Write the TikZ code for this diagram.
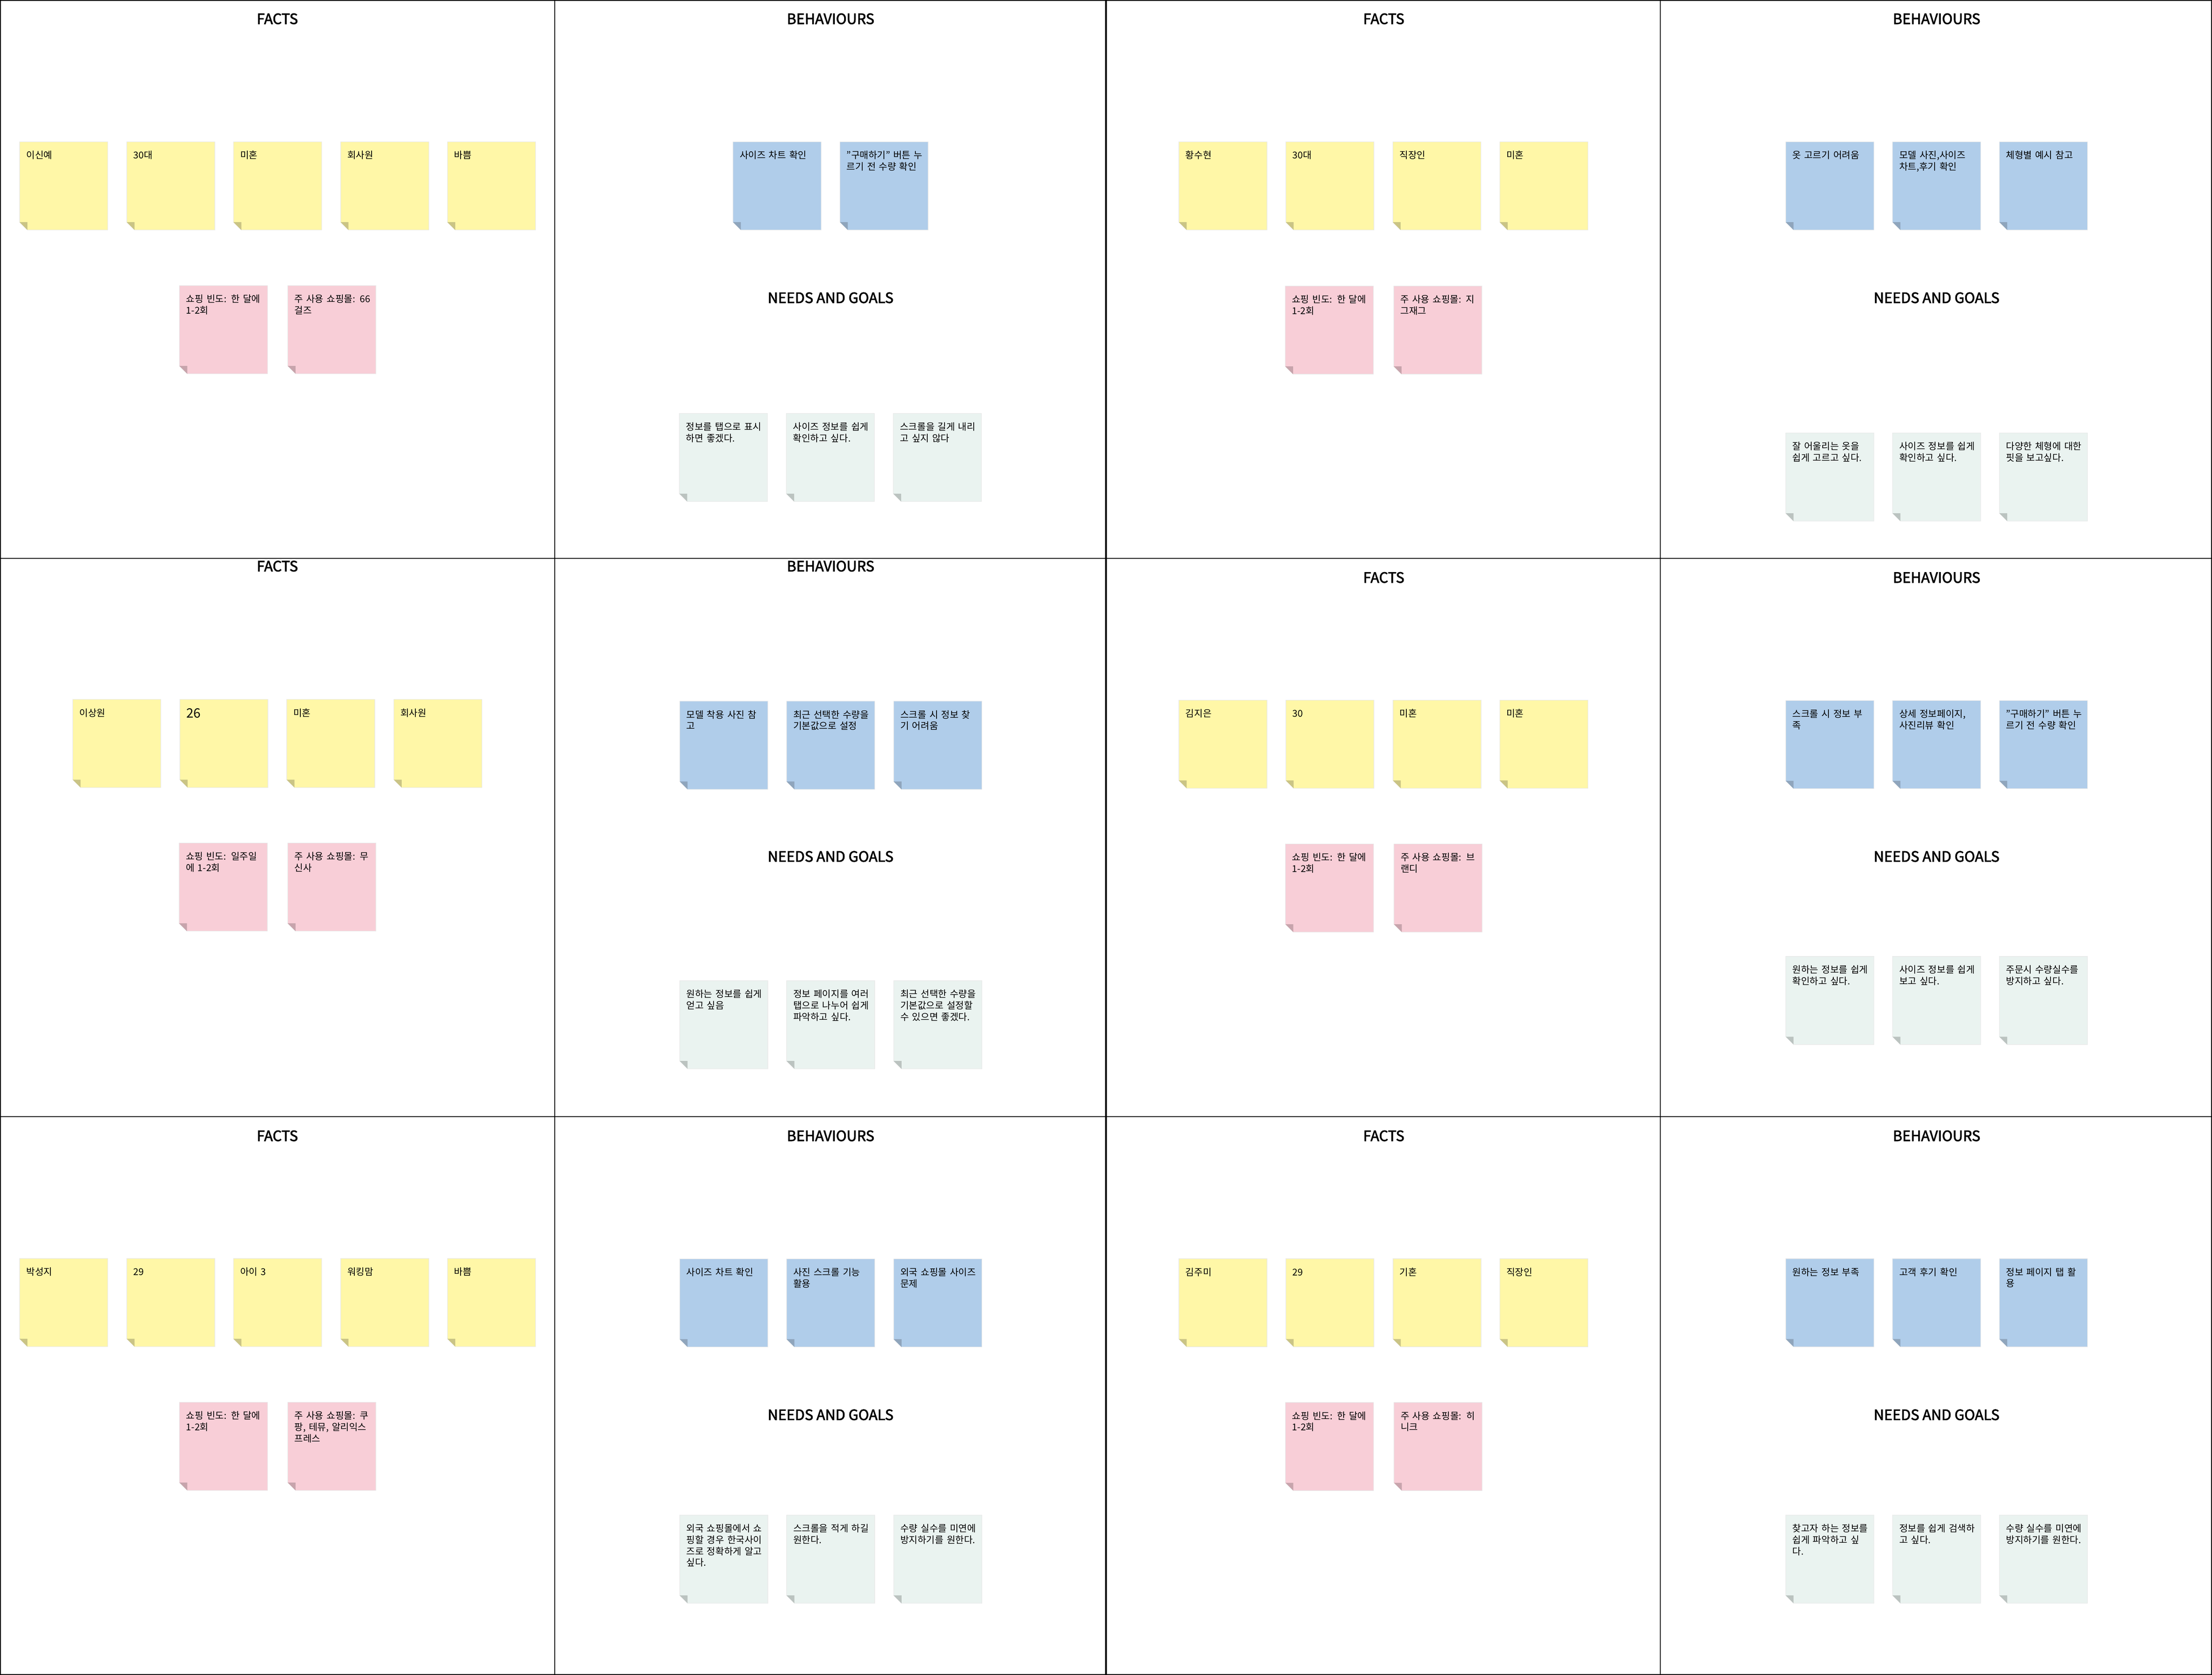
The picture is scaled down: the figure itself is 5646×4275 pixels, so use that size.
\documentclass[tikz,border=0pt]{standalone}
\usepackage{fontspec}
\setmainfont{Noto Sans CJK KR}
\newfontfamily\titlefont[FakeBold=2.5]{Noto Sans CJK KR}
\definecolor{noteYel}{HTML}{FFF7A7}
\definecolor{foldYel}{HTML}{CAC485}
\definecolor{notePink}{HTML}{F8CED7}
\definecolor{foldPink}{HTML}{C7A4AC}
\definecolor{noteBlue}{HTML}{B0CDEA}
\definecolor{foldBlue}{HTML}{8FA5BC}
\definecolor{noteGreen}{HTML}{EAF3F0}
\definecolor{foldGreen}{HTML}{BBC3C0}
\tikzset{
  gridline/.style={draw=black, line width=2.5pt},
  heading/.style={font=\titlefont\fontsize{36.5}{42}\selectfont, inner sep=0pt, anchor=center},
  notetext/.style={anchor=north west, inner sep=0pt, text width=240pt, align=left, font=\fontsize{24}{29}\selectfont, text=black},
  bodybase/.style={draw=black!9, line width=1.2pt},
  yelbody/.style={bodybase, fill=noteYel},   yelfold/.style={fill=foldYel},
  pinkbody/.style={bodybase, fill=notePink}, pinkfold/.style={fill=foldPink},
  bluebody/.style={bodybase, fill=noteBlue}, bluefold/.style={fill=foldBlue},
  greenbody/.style={bodybase, fill=noteGreen}, greenfold/.style={fill=foldGreen},
}
% #1 name, #2 x, #3 y, #4 kind, #5 text
\newcommand\sticky[5]{%
  \path[#4body] (#2,#3) -- ++(225,0) -- ++(0,225) -- ++(-205,0) -- ++(-20,-20) -- cycle;
  \fill[#4fold] (#2,#3+205) -- ++(20,0) -- ++(0,20) -- cycle;
  \node[notetext] (#1) at (#2+17,#3+23) {\rule{0pt}{20pt}#5};
}
\begin{document}
\begin{tikzpicture}[x=1pt,y=-1pt]
\useasboundingbox (0,0) rectangle (5646,4275);
\fill[white] (0,0) rectangle (5646,4275);
% ---------- frame and grid ----------
\draw[gridline] (1.25,1.25) rectangle (5644.75,4273.75);
\draw[gridline] (1416,0) -- (1416,4275);
\draw[gridline, line width=3.5pt] (2823,0) -- (2823,4275);
\draw[gridline] (4238,0) -- (4238,4275);
\draw[gridline] (0,1425) -- (5646,1425);
\draw[gridline] (0,2850) -- (5646,2850);
% ---------- headings ----------
\node[heading] (h11) at (708,48) {FACTS};
\node[heading] (h12) at (2120,48) {BEHAVIOURS};
\node[heading] (g12) at (2120,760) {NEEDS AND GOALS};
\node[heading] (h13) at (3532,48) {FACTS};
\node[heading] (h14) at (4943,48) {BEHAVIOURS};
\node[heading] (g14) at (4943,760) {NEEDS AND GOALS};
\node[heading] (h21) at (708,1445) {FACTS};
\node[heading] (h22) at (2120,1445) {BEHAVIOURS};
\node[heading] (g22) at (2120,2186) {NEEDS AND GOALS};
\node[heading] (h23) at (3532,1474) {FACTS};
\node[heading] (h24) at (4943,1474) {BEHAVIOURS};
\node[heading] (g24) at (4943,2186) {NEEDS AND GOALS};
\node[heading] (h31) at (708,2899) {FACTS};
\node[heading] (h32) at (2120,2899) {BEHAVIOURS};
\node[heading] (g32) at (2120,3611) {NEEDS AND GOALS};
\node[heading] (h33) at (3532,2899) {FACTS};
\node[heading] (h34) at (4943,2899) {BEHAVIOURS};
\node[heading] (g34) at (4943,3611) {NEEDS AND GOALS};
% ---------- row 1 ----------
\sticky{a1}{50}{362}{yel}{이신예}
\sticky{a2}{323.5}{362}{yel}{30대}
\sticky{a3}{596}{362}{yel}{미혼}
\sticky{a4}{869.5}{362}{yel}{회사원}
\sticky{a5}{1142}{362}{yel}{바쁨}
\sticky{a6}{458}{729}{pink}{쇼핑 빈도: 한 달에\\1-2회}
\sticky{a7}{734.5}{729}{pink}{주 사용 쇼핑몰: 66\\걸즈}
\sticky{b1}{1871}{362}{blue}{사이즈 차트 확인}
\sticky{b2}{2144}{362}{blue}{"구매하기" 버튼 누\\르기 전 수량 확인}
\sticky{b3}{1734}{1055}{green}{정보를 탭으로 표시\\하면 좋겠다.}
\sticky{b4}{2007}{1055}{green}{사이즈 정보를 쉽게\\확인하고 싶다.}
\sticky{b5}{2280}{1055}{green}{스크롤을 길게 내리\\고 싶지 않다}
\sticky{c1}{3009}{362}{yel}{황수현}
\sticky{c2}{3282}{362}{yel}{30대}
\sticky{c3}{3555}{362}{yel}{직장인}
\sticky{c4}{3828}{362}{yel}{미혼}
\sticky{c5}{3280.5}{730}{pink}{쇼핑 빈도: 한 달에\\1-2회}
\sticky{c6}{3557.5}{730}{pink}{주 사용 쇼핑몰: 지\\그재그}
\sticky{d1}{4558}{362}{blue}{옷 고르기 어려움}
\sticky{d2}{4830.6}{362}{blue}{모델 사진,사이즈\\차트,후기 확인}
\sticky{d3}{5103.3}{362}{blue}{체형별 예시 참고}
\sticky{d4}{4558}{1105}{green}{잘 어울리는 옷을\\쉽게 고르고 싶다.}
\sticky{d5}{4830.6}{1105}{green}{사이즈 정보를 쉽게\\확인하고 싶다.}
\sticky{d6}{5103.3}{1105}{green}{다양한 체형에 대한\\핏을 보고싶다.}
% ---------- row 2 ----------
\sticky{e1}{185.7}{1785}{yel}{이상원}
\sticky{e2}{459}{1785}{yel}{\rule{0pt}{9pt}{\fontsize{33}{38}\selectfont 26}}
\sticky{e3}{731.7}{1785}{yel}{미혼}
\sticky{e4}{1005.2}{1785}{yel}{회사원}
\sticky{e5}{457.3}{2151.6}{pink}{쇼핑 빈도: 일주일\\에 1-2회}
\sticky{e6}{734.5}{2151.6}{pink}{주 사용 쇼핑몰: 무\\신사}
\sticky{f1}{1735}{1789.7}{blue}{모델 착용 사진 참\\고}
\sticky{f2}{2007.7}{1789.7}{blue}{최근 선택한 수량을\\기본값으로 설정}
\sticky{f3}{2281}{1789.7}{blue}{스크롤 시 정보 찾\\기 어려움}
\sticky{f4}{1735}{2503}{green}{원하는 정보를 쉽게\\얻고 싶음}
\sticky{f5}{2007.7}{2503}{green}{정보 페이지를 여러\\탭으로 나누어 쉽게\\파악하고 싶다.}
\sticky{f6}{2281}{2503}{green}{최근 선택한 수량을\\기본값으로 설정할\\수 있으면 좋겠다.}
\sticky{g1}{3009}{1787}{yel}{김지은}
\sticky{g2}{3282}{1787}{yel}{30}
\sticky{g3}{3555.5}{1787}{yel}{미혼}
\sticky{g4}{3828}{1787}{yel}{미혼}
\sticky{g5}{3281}{2154}{pink}{쇼핑 빈도: 한 달에\\1-2회}
\sticky{g6}{3558}{2154}{pink}{주 사용 쇼핑몰: 브\\랜디}
\sticky{k1}{4558}{1788}{blue}{스크롤 시 정보 부\\족}
\sticky{k2}{4830.6}{1788}{blue}{상세 정보페이지,\\사진리뷰 확인}
\sticky{k3}{5103.3}{1788}{blue}{"구매하기" 버튼 누\\르기 전 수량 확인}
\sticky{k4}{4558}{2441}{green}{원하는 정보를 쉽게\\확인하고 싶다.}
\sticky{k5}{4830.6}{2441}{green}{사이즈 정보를 쉽게\\보고 싶다.}
\sticky{k6}{5103.3}{2441}{green}{주문시 수량실수를\\방지하고 싶다.}
% ---------- row 3 ----------
\sticky{m1}{50}{3212}{yel}{박성지}
\sticky{m2}{323.5}{3212}{yel}{29}
\sticky{m3}{596}{3212}{yel}{아이 3}
\sticky{m4}{869.5}{3212}{yel}{워킹맘}
\sticky{m5}{1142}{3212}{yel}{바쁨}
\sticky{m6}{458}{3579}{pink}{쇼핑 빈도: 한 달에\\1-2회}
\sticky{m7}{734.5}{3579}{pink}{주 사용 쇼핑몰: 쿠\\팡, 테뮤, 알리익스\\프레스}
\sticky{p1}{1735}{3213}{blue}{사이즈 차트 확인}
\sticky{p2}{2007.7}{3213}{blue}{사진 스크롤 기능\\활용}
\sticky{p3}{2281}{3213}{blue}{외국 쇼핑몰 사이즈\\문제}
\sticky{p4}{1735}{3867}{green}{외국 쇼핑몰에서 쇼\\핑할 경우 한국사이\\즈로 정확하게 알고\\싶다.}
\sticky{p5}{2007.7}{3867}{green}{스크롤을 적게 하길\\원한다.}
\sticky{p6}{2281}{3867}{green}{수량 실수를 미연에\\방지하기를 원한다.}
\sticky{q1}{3009}{3212.5}{yel}{김주미}
\sticky{q2}{3282}{3212.5}{yel}{29}
\sticky{q3}{3555.5}{3212.5}{yel}{기혼}
\sticky{q4}{3828}{3212.5}{yel}{직장인}
\sticky{q5}{3281}{3579.5}{pink}{쇼핑 빈도: 한 달에\\1-2회}
\sticky{q6}{3558}{3579.5}{pink}{주 사용 쇼핑몰: 히\\니크}
\sticky{s1}{4558}{3212.5}{blue}{원하는 정보 부족}
\sticky{s2}{4830.6}{3212.5}{blue}{고객 후기 확인}
\sticky{s3}{5103.3}{3212.5}{blue}{정보 페이지 탭 활\\용}
\sticky{s4}{4558}{3867}{green}{찾고자 하는 정보를\\쉽게 파악하고 싶\\다.}
\sticky{s5}{4830.6}{3867}{green}{정보를 쉽게 검색하\\고 싶다.}
\sticky{s6}{5103.3}{3867}{green}{수량 실수를 미연에\\방지하기를 원한다.}
\end{tikzpicture}
\end{document}
